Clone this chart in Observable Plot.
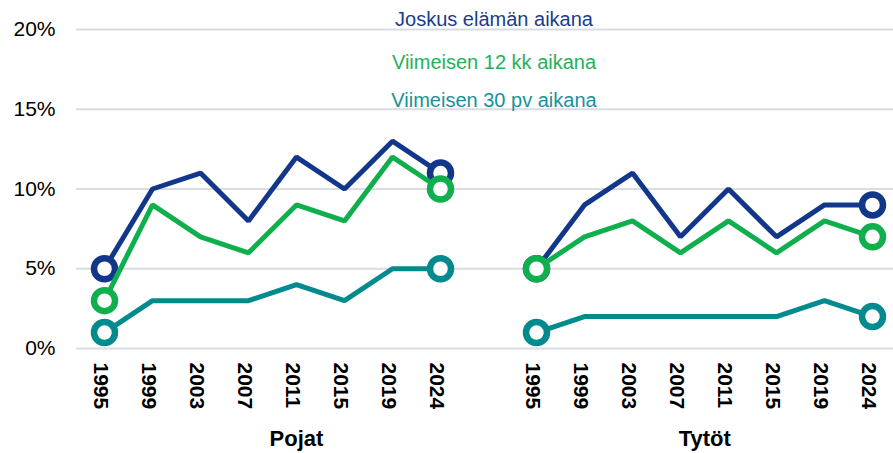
<!DOCTYPE html>
<html><head><meta charset="utf-8">
<script src="https://cdn.jsdelivr.net/npm/d3@7"></script>
<script src="https://cdn.jsdelivr.net/npm/@observablehq/plot@0.6"></script>
<style>body{margin:0;background:#fff} #chart{width:893px;height:453px}</style>
</head><body><div id="chart"></div>
<script>
const years = [1995, 1999, 2003, 2007, 2011, 2015, 2019, 2024];
const groups = ["Pojat", "Tytöt"];
const groupPrefix = ["P", "T"];
const seriesNames = ["Joskus elämän aikana", "Viimeisen 12 kk aikana", "Viimeisen 30 pv aikana"];
const lineColors = ["#12378a", "#10af4d", "#028a8d"];
const labelColors = ["#1a3c8c", "#1fb25a", "#14939a"];
const pojatJoskus = [5, 10, 11, 8, 12, 10, 13, 11];
const pojat12kk   = [3, 9, 7, 6, 9, 8, 12, 10];
const pojat30pv   = [1, 3, 3, 3, 4, 3, 5, 5];
const tytotJoskus = [5, 9, 11, 7, 10, 7, 9, 9];
const tytot12kk   = [5, 7, 8, 6, 8, 6, 8, 7];
const tytot30pv   = [1, 2, 2, 2, 2, 2, 3, 2];
const yTicks = [0, 5, 10, 15, 20];

const values = [
  [pojatJoskus, pojat12kk, pojat30pv],
  [tytotJoskus, tytot12kk, tytot30pv]
];
const rows = [];
groups.forEach((g, gi) => {
  seriesNames.forEach((s, si) => {
    values[gi][si].forEach((v, i) => {
      rows.push({group: g, series: s, si, year: years[i], key: groupPrefix[gi] + years[i], value: v, i});
    });
  });
});
const xDomain = [...years.map(y => "P" + y), "gap", ...years.map(y => "T" + y)];
const tickKeys = xDomain.filter(k => k !== "gap");

const legendDy = [-10, 33, 71];

const seriesMarks = seriesNames.flatMap(s => {
  const sr = rows.filter(d => d.series === s);
  const ends = sr.filter(d => d.i === 0 || d.i === years.length - 1);
  return [
    Plot.line(sr, {x: "key", y: "value", z: "group", stroke: "series", strokeWidth: 5, strokeLinejoin: "miter", strokeLinecap: "butt"}),
    Plot.dot(ends, {x: "key", y: "value", stroke: "series", fill: "white", r: 10.5, strokeWidth: 6.5})
  ];
});

const plot = Plot.plot({
  width: 893, height: 453,
  marginTop: 29, marginBottom: 105, marginLeft: 76, marginRight: 0,
  style: {fontFamily: "'Liberation Sans', Arial, sans-serif", background: "#fff", color: "#000", overflow: "visible"},
  x: {type: "point", domain: xDomain, range: [76.5, 899], padding: 0.5, align: 0.5},
  y: {domain: [0, 20]},
  color: {domain: seriesNames, range: lineColors},
  marks: [
    Plot.ruleY(yTicks, {stroke: "#d9dce1", strokeWidth: 2}),
    Plot.axisY({ticks: yTicks, tickSize: 0, tickPadding: 21, tickFormat: d => d + "%", fontSize: 21, label: null}),
    Plot.axisX({ticks: tickKeys, tickSize: 0, tickRotate: 90, tickPadding: 14, dx: -4, tickFormat: d => d.slice(1), fontSize: 21, fontWeight: "bold", label: null}),
    ...seriesMarks,
    ...seriesNames.map((s, i) => Plot.text([s], {text: d => d, frameAnchor: "top", dx: 9, dy: legendDy[i], lineAnchor: "middle", fill: labelColors[i], fontSize: 20})),
    Plot.text([groups[0]], {text: d => d, x: () => "P2011", frameAnchor: "bottom", dy: 90, lineAnchor: "middle", fontSize: 22, fontWeight: "bold", fill: "#000"}),
    Plot.text([groups[1]], {text: d => d, x: () => "T2007", dx: 24.2, frameAnchor: "bottom", dy: 90, lineAnchor: "middle", fontSize: 22, fontWeight: "bold", fill: "#000"})
  ]
});
document.getElementById("chart").appendChild(plot);
</script>
</body></html>
